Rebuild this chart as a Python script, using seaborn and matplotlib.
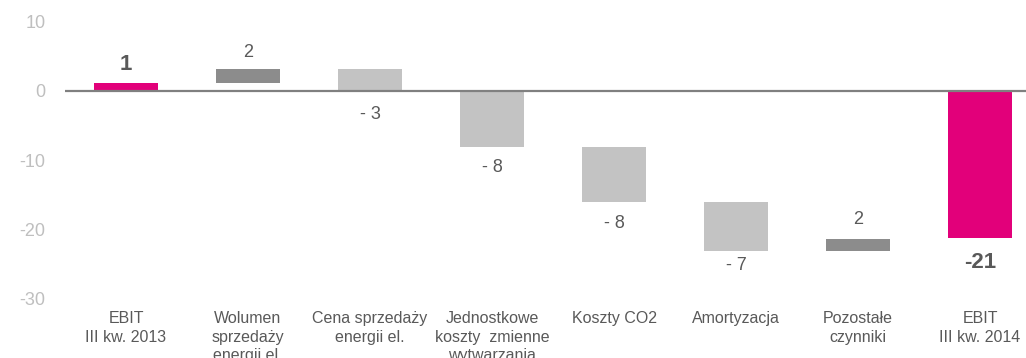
import numpy as np
import pandas as pd
import matplotlib
matplotlib.use("Agg")
import matplotlib.pyplot as plt
import seaborn as sns

categories = ["EBIT\nIII kw. 2013", "Wolumen\nsprzedaży\nenergii el.",
              "Cena sprzedaży\nenergii el.", "Jednostkowe\nkoszty  zmienne\nwytwarzania",
              "Koszty CO2", "Amortyzacja", "Pozostałe\nczynniki", "EBIT\nIII kw. 2014"]
bar_bottom = [0.0, 1.1, 3.1, 0.0, -8.1, -16.1, -23.1, 0.0]
bar_height = [1.1, 2.0, -3.0, -8.1, -8.0, -7.0, 1.7, -21.3]
value_labels = ["1", "2", "- 3", "- 8", "- 8", "- 7", "2", "-21"]
bold_labels = [True, False, False, False, False, False, False, True]
bar_colors = ["#E2007A", "#8C8C8C", "#C3C3C3", "#C3C3C3", "#C3C3C3", "#C3C3C3", "#8C8C8C", "#E2007A"]
label_offsets_px = [19, 17, -24, -21, -21, -15, 19, -24]
yticks = [-30, -20, -10, 0, 10]

sns.set_style("white")
plt.rcParams['font.family'] = ['Liberation Sans', 'DejaVu Sans']

fig = plt.figure(figsize=(10.26, 3.58), dpi=100)
W, H = 1026, 358
left_px, right_px = 65, 1026
top_px, bot_px = 21.7, 298.3
ax = fig.add_axes([left_px / W, (H - bot_px) / H, (right_px - left_px) / W, (bot_px - top_px) / H])

df = pd.DataFrame({"cat": categories, "h": bar_height})
sns.barplot(data=df, x="cat", y="h", order=categories, bottom=np.array(bar_bottom),
            color="#C3C3C3", saturation=1, width=0.52, linewidth=0, errorbar=None,
            ax=ax, zorder=2)
for p, c in zip(ax.patches, bar_colors):
    p.set_facecolor(c)
    p.set_edgecolor(c)

ax.axhline(0, color="#808080", lw=1.6, zorder=3)

ax.set_xlim(-0.5, -0.5 + (right_px - left_px) / 122.0)
ax.set_ylim(-30, 10)
ax.set_yticks(yticks)
ax.set_yticklabels([str(t) for t in yticks])
ax.set_xlabel("")
ax.set_ylabel("")
ax.tick_params(axis="y", length=0, pad=14, labelsize=13, labelcolor="#BFBFBF")
ax.tick_params(axis="x", length=0, pad=9, labelsize=11.5, labelcolor="#595959")
for lbl in ax.get_xticklabels():
    lbl.set_linespacing(1.32)
for s in ax.spines.values():
    s.set_visible(False)

for i, (b, h, txt, bold, off) in enumerate(zip(bar_bottom, bar_height, value_labels,
                                                bold_labels, label_offsets_px)):
    top = b + h
    ax.annotate(txt, (i, top), xytext=(0, off), textcoords="offset pixels",
                ha="center", va="center",
                fontsize=16 if bold else 13, fontweight="bold" if bold else "normal",
                color="#595959", zorder=4)

fig.savefig("out.png", dpi=100)
